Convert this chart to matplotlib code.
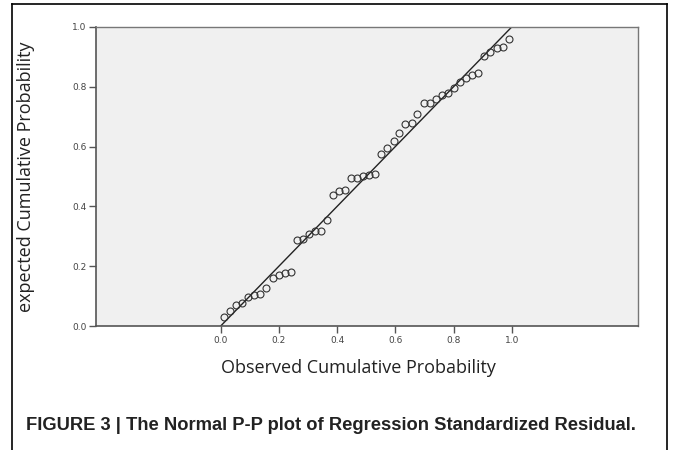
import matplotlib.pyplot as plt
from matplotlib.lines import Line2D

# observed vs expected cumulative probabilities
observed = [0.011, 0.032, 0.053, 0.074, 0.095, 0.116, 0.136, 0.157, 0.179, 0.199,
            0.220, 0.241, 0.261, 0.283, 0.303, 0.324, 0.345, 0.365, 0.386, 0.407,
            0.427, 0.448, 0.468, 0.490, 0.511, 0.531, 0.552, 0.573, 0.594, 0.614,
            0.635, 0.656, 0.676, 0.698, 0.719, 0.740, 0.760, 0.781, 0.802, 0.823,
            0.843, 0.864, 0.885, 0.906, 0.927, 0.948, 0.969, 0.990]
expected = [0.030, 0.050, 0.069, 0.076, 0.098, 0.103, 0.106, 0.127, 0.162, 0.172,
            0.178, 0.182, 0.288, 0.290, 0.308, 0.318, 0.318, 0.355, 0.437, 0.450,
            0.454, 0.495, 0.495, 0.503, 0.506, 0.509, 0.575, 0.596, 0.618, 0.647,
            0.674, 0.678, 0.708, 0.745, 0.745, 0.759, 0.773, 0.778, 0.797, 0.815,
            0.828, 0.840, 0.845, 0.903, 0.915, 0.929, 0.934, 0.960]
ref_line = [0.0, 1.0]
ticks = [0.0, 0.2, 0.4, 0.6, 0.8, 1.0]
tick_labels = ["0.0", "0.2", "0.4", "0.6", "0.8", "1.0"]

fig = plt.figure(figsize=(6.73, 4.5), dpi=100)
ax = fig.add_axes([96 / 673, 1 - 326 / 450, 542 / 673, 299 / 450])
ax.set_facecolor("#f0f0f0")

ax.plot(ref_line, ref_line, color="#222222", lw=1.0, zorder=2)
ax.plot(observed, expected, linestyle="none", marker="o", markersize=5,
        markerfacecolor="none", markeredgecolor="#333333", markeredgewidth=0.8, zorder=3)

ax.set_xlim(-0.4285, 1.434)
ax.set_ylim(0, 1)
ax.set_xticks(ticks)
ax.set_xticklabels(tick_labels)
ax.set_yticks(ticks)
ax.set_yticklabels(tick_labels)
ax.tick_params(axis="both", length=5, width=1, color="#555555", labelsize=6.5,
               labelcolor="#444444", pad=2)

for side in ["left", "bottom"]:
    ax.spines[side].set_color("#555555")
    ax.spines[side].set_linewidth(1.2)
for side in ["top", "right"]:
    ax.spines[side].set_color("#777777")
    ax.spines[side].set_linewidth(1.0)

fig.text(358 / 673, 1 - 368 / 450, "Observed Cumulative Probability",
         family="Open Sans", fontsize=13, color="#222222", ha="center", va="center")
fig.text(26 / 673, 1 - 177 / 450, "expected Cumulative Probability",
         family="Open Sans", fontsize=13, color="#222222", ha="center", va="center",
         rotation=90)
fig.text(26 / 673, 1 - 425 / 450,
         "FIGURE 3 | The Normal P-P plot of Regression Standardized Residual.",
         family="Liberation Sans", fontweight="bold",
         fontsize=13.2, color="#222222", ha="left", va="center")

# outer frame around the figure panel
fig.add_artist(Line2D([12 / 673, 12 / 673], [0, 1 - 4 / 450], color="black", lw=1.2))
fig.add_artist(Line2D([12 / 673, 667 / 673], [1 - 4 / 450, 1 - 4 / 450], color="black", lw=1.2))
fig.add_artist(Line2D([667 / 673, 667 / 673], [0, 1 - 4 / 450], color="black", lw=1.2))

fig.savefig("out.png", dpi=100)
